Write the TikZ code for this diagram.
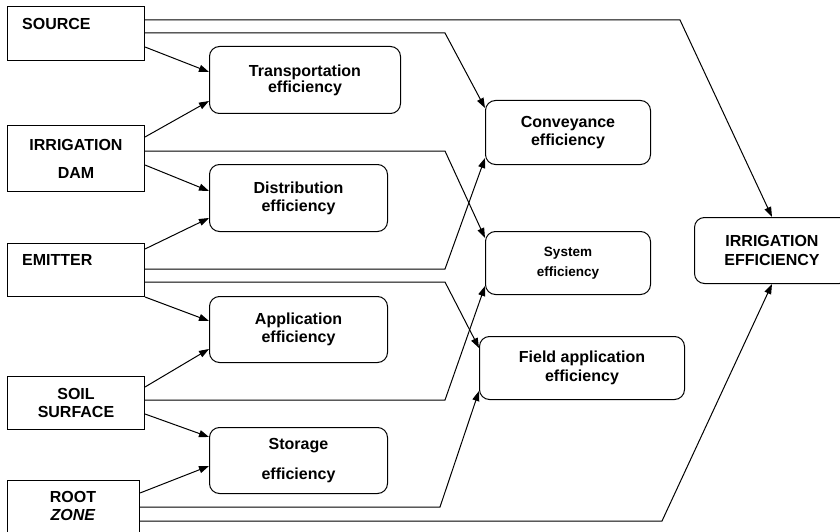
\documentclass[tikz,border=0pt]{standalone}
\usepackage{fontspec}
\setmainfont{Liberation Sans}
\usetikzlibrary{arrows.meta}
\begin{document}
\begin{tikzpicture}[x=1pt,y=-1pt,
  every node/.style={font=\bfseries\fontsize{16}{19}\selectfont, inner sep=0pt, align=center},
  srcbox/.style={draw, line width=1pt, anchor=north west},
  effbox/.style={draw, rounded corners=10pt, line width=1pt, anchor=north west},
  link/.style={line width=1pt, -{Triangle[length=10pt,width=7pt]}}]
\useasboundingbox (0,0) rectangle (840,532);
\clip (0,0) rectangle (840,532);

% sources on the left
\node[srcbox, minimum width=137pt, minimum height=54pt] (src) at (7,6) {};
\node[anchor=west] (srct) at (22,24) {SOURCE};
\node[srcbox, minimum width=137pt, minimum height=66pt] (dam) at (7,125) {IRRIGATION\\[9pt]DAM};
\node[srcbox, minimum width=137pt, minimum height=53pt] (emit) at (7,243) {};
\node[anchor=west] (emitt) at (22,260) {EMITTER};
\node[srcbox, minimum width=137pt, minimum height=53pt] (soil) at (7,376) {SOIL\\[-1pt]SURFACE};
\node[srcbox, minimum width=132pt, minimum height=80pt] (root) at (7,480) {};
\node (roott) at (73,506) {ROOT\\[-1pt]\textit{ZONE}};

% partial efficiencies
\node[effbox, minimum width=191pt, minimum height=67pt] (trans) at (209,46) {Transportation\\[-3pt]efficiency};
\node[effbox, minimum width=178pt, minimum height=67pt] (dist) at (209,164) {Distribution\\[-1pt]efficiency};
\node[effbox, minimum width=178pt, minimum height=66pt] (app) at (209,296) {Application\\[-1pt]efficiency};
\node[effbox, minimum width=178pt, minimum height=66pt] (stor) at (209,427) {Storage\\[11pt]efficiency};

% combined efficiencies
\node[effbox, minimum width=165pt, minimum height=64pt] (conv) at (485,100) {Conveyance\\[-1pt]efficiency};
\node[effbox, minimum width=165pt, minimum height=63pt,
      font=\bfseries\fontsize{13.5}{16}\selectfont] (sys) at (485,231) {System\\[4pt]efficiency};
\node[effbox, minimum width=205pt, minimum height=63pt] (field) at (479,336) {Field application\\[0pt]efficiency};
\node[effbox, minimum width=155pt, minimum height=66pt] (ie) at (694,217) {IRRIGATION\\[0pt]EFFICIENCY};

% direct links
\draw[link] (src.east |- 0,47) -- (trans.west |- 0,72);
\draw[link] (dam.east |- 0,137) -- (trans.west |- 0,101);
\draw[link] (dam.east |- 0,165) -- (dist.west |- 0,191);
\draw[link] (emit.east |- 0,249) -- (dist.west |- 0,218);
\draw[link] (emit.south east) -- (app.west |- 0,321);
\draw[link] (soil.east |- 0,387) -- (app.west |- 0,349);
\draw[link] (soil.east |- 0,414) -- (stor.west |- 0,437);
\draw[link] (root.east |- 0,493) -- (stor.west |- 0,466);

% routed links
\draw[link] (src.east |- 0,20) -- (680,20) -- (ie.north);
\draw[link] (src.east |- 0,33) -- (445,33) -- (conv.west |- 0,108);
\draw[link] (dam.east |- 0,151) -- (445,151) -- (sys.west |- 0,238);
\draw[link] (emit.east |- 0,269) -- (445,269) -- (conv.west |- 0,158);
\draw[link] (emit.east |- 0,282) -- (445,282) -- (field.west |- 0,348);
\draw[link] (soil.east |- 0,400) -- (445,400) -- (sys.west |- 0,286);
\draw[link] (root.east |- 0,507) -- (440,507) -- (field.west |- 0,391);
\draw[link] (root.east |- 0,521) -- (662,521) -- (ie.south);
\end{tikzpicture}
\end{document}
